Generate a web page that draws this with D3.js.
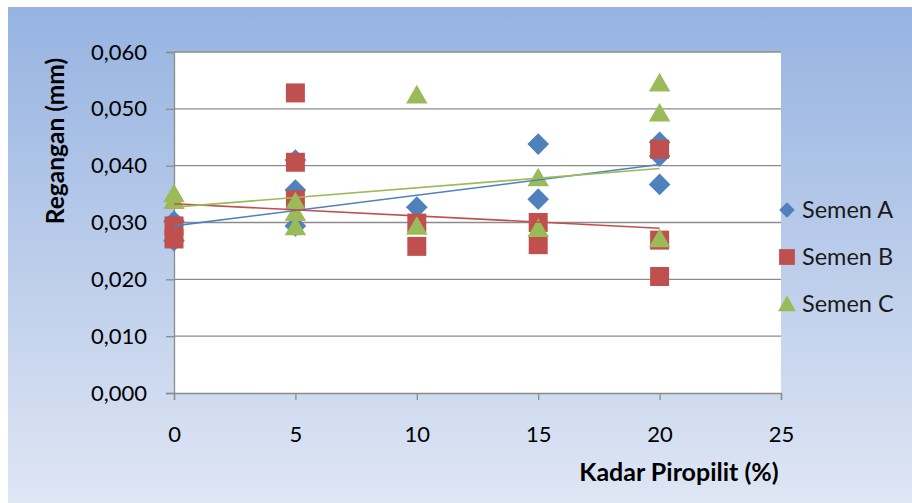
<!DOCTYPE html>
<html>
<head>
<meta charset="utf-8">
<script src="https://cdn.jsdelivr.net/npm/d3@7"></script>
<style>
  html, body { margin: 0; padding: 0; background: #ffffff; }
  svg { display: block; }
  text { font-family: Lato, "Open Sans", "DejaVu Sans", sans-serif; }
</style>
</head>
<body>
<svg id="chart" width="912" height="503"></svg>
<script>
// ---- data ----
const xTicks = [0, 5, 10, 15, 20, 25];
const yTicks = [0, 0.01, 0.02, 0.03, 0.04, 0.05, 0.06];

const semenA_x = [0, 0, 5, 5, 5, 10, 15, 15, 20, 20, 20];
const semenA_y = [0.0302, 0.0268, 0.0410, 0.0357, 0.0294, 0.0327, 0.0438, 0.0341, 0.0441, 0.0417, 0.0367];

const semenB_x = [0, 0, 5, 5, 5, 10, 10, 15, 15, 20, 20, 20];
const semenB_y = [0.0294, 0.0271, 0.0528, 0.0406, 0.0340, 0.0299, 0.0258, 0.0300, 0.0261, 0.0429, 0.0269, 0.0205];

const semenC_x = [0, 0, 5, 5, 5, 10, 10, 15, 15, 20, 20, 20];
const semenC_y = [0.0350, 0.0338, 0.0336, 0.0317, 0.0292, 0.0524, 0.0293, 0.0378, 0.0289, 0.0545, 0.0492, 0.0271];

const trendX = [0, 20];
const trendA = [0.0294, 0.0402];
const trendB = [0.0333, 0.0290];
const trendC = [0.0327, 0.0395];

const seriesNames = ["Semen A", "Semen B", "Semen C"];
const colors = ["#4f81bd", "#c0504d", "#9bbb59"];

const xTitle = "Kadar Piropilit (%)";
const yTitle = "Regangan (mm)";

// ---- layout ----
const svg = d3.select("#chart");
const W = 912, H = 503;
const plot = { left: 174, right: 781, top: 52, bottom: 393 };

const defs = svg.append("defs");
const grad = defs.append("linearGradient").attr("id", "bg").attr("x1", 0).attr("y1", 0).attr("x2", 0).attr("y2", 1);
grad.append("stop").attr("offset", "0%").attr("stop-color", "#96b3e1");
grad.append("stop").attr("offset", "100%").attr("stop-color", "#dfe6f4");

svg.append("rect").attr("x", 0).attr("y", 0).attr("width", W).attr("height", H).attr("fill", "#ffffff");
svg.append("rect").attr("x", 8).attr("y", 7).attr("width", W - 8).attr("height", H - 7).attr("fill", "url(#bg)");

const x = d3.scaleLinear().domain([0, 25]).range([plot.left, plot.right]);
const y = d3.scaleLinear().domain([0, 0.06]).range([plot.bottom, plot.top]);

svg.append("rect").attr("x", plot.left).attr("y", plot.top)
  .attr("width", plot.right - plot.left).attr("height", plot.bottom - plot.top).attr("fill", "#ffffff");

// gridlines
svg.append("g").selectAll("line").data(yTicks.filter(d => d > 0)).join("line")
  .attr("x1", plot.left).attr("x2", plot.right)
  .attr("y1", d => y(d)).attr("y2", d => y(d))
  .attr("stroke", "#8c8c8c").attr("stroke-width", 1.3);

const fmt = d => d3.format(".3f")(d).replace(".", ",");

// y axis
const yAxis = svg.append("g").attr("transform", `translate(${plot.left},0)`)
  .call(d3.axisLeft(y).tickValues(yTicks).tickFormat(fmt).tickSize(8).tickPadding(19));
yAxis.select(".domain").attr("stroke", "#8c8c8c").attr("stroke-width", 1.3);
yAxis.selectAll(".tick line").attr("stroke", "#8c8c8c").attr("stroke-width", 1.3);
yAxis.selectAll(".tick text").attr("font-size", 22).attr("fill", "#000").attr("font-family", "Lato");

// x axis
const xAxis = svg.append("g").attr("transform", `translate(0,${plot.bottom})`)
  .call(d3.axisBottom(x).tickValues(xTicks).tickSize(7).tickPadding(26));
xAxis.select(".domain").attr("stroke", "#8c8c8c").attr("stroke-width", 1.3);
xAxis.selectAll(".tick line").attr("stroke", "#8c8c8c").attr("stroke-width", 1.3);
xAxis.selectAll(".tick text").attr("font-size", 22).attr("fill", "#000").attr("font-family", "Lato");

// marker shapes: diamond = rotated square
const markerPath = [
  d3.symbol().type(d3.symbolSquare).size(235)(),
  d3.symbol().type(d3.symbolSquare).size(360)(),
  d3.symbol().type(d3.symbolTriangle).size(200)()
];
const markerRot = [45, 0, 0];

const allSeries = [
  { xs: semenA_x, ys: semenA_y },
  { xs: semenB_x, ys: semenB_y },
  { xs: semenC_x, ys: semenC_y }
];
allSeries.forEach((s, i) => {
  svg.append("g").selectAll("path").data(s.xs.map((v, k) => [v, s.ys[k]])).join("path")
    .attr("d", markerPath[i])
    .attr("transform", d => `translate(${x(d[0])},${y(d[1]) + (i === 2 ? 2 : 0)}) rotate(${markerRot[i]})`)
    .attr("fill", colors[i]);
});

// trendlines
const trends = [trendA, trendB, trendC];
const line = d3.line().x(d => x(d[0])).y(d => y(d[1]));
trends.forEach((t, i) => {
  svg.append("path").datum(trendX.map((v, k) => [v, t[k]]))
    .attr("d", line).attr("fill", "none")
    .attr("stroke", colors[i]).attr("stroke-width", 1.6);
});

// axis titles
svg.append("text").attr("x", 679).attr("y", 481).attr("text-anchor", "middle")
  .attr("font-size", 25).attr("font-weight", "bold").attr("fill", "#000").text(xTitle);
svg.append("text").attr("transform", "translate(64,141) rotate(-90)").attr("text-anchor", "middle")
  .attr("font-size", 24.5).attr("font-weight", "bold").attr("fill", "#000").text(yTitle);

// legend
const legY = [210, 257, 304];
const legPath = [
  d3.symbol().type(d3.symbolSquare).size(120)(),
  d3.symbol().type(d3.symbolSquare).size(250)(),
  d3.symbol().type(d3.symbolTriangle).size(140)()
];
seriesNames.forEach((n, i) => {
  svg.append("path").attr("d", legPath[i])
    .attr("transform", `translate(787,${legY[i] + (i === 2 ? 2 : 0)}) rotate(${markerRot[i]})`)
    .attr("fill", colors[i]);
  svg.append("text").attr("x", 802).attr("y", legY[i]).attr("dy", "0.36em")
    .attr("font-size", 23.5).attr("fill", "#1a1a1a").text(n);
});
</script>
</body>
</html>
